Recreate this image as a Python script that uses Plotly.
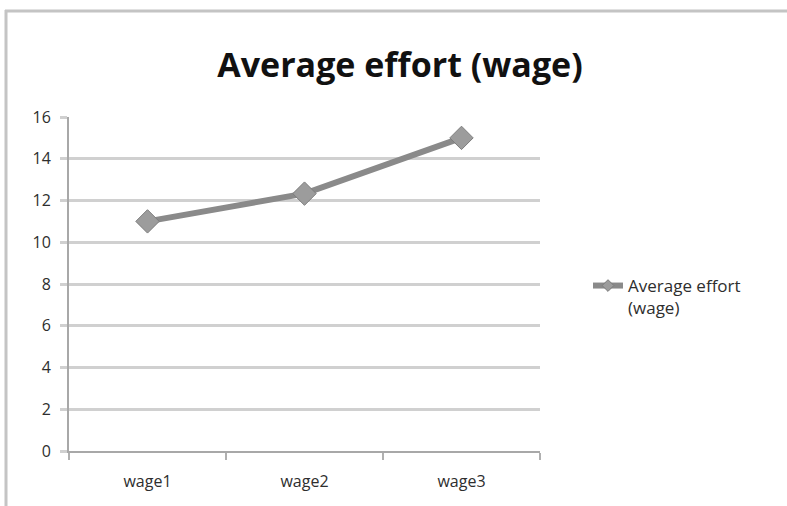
import plotly.graph_objects as go

categories = ["wage1", "wage2", "wage3"]
avg_effort = [11.0, 12.33, 15.0]
y_ticks = [0, 2, 4, 6, 8, 10, 12, 14, 16]
series_name = "Average effort<br>(wage)"
title_text = "Average effort (wage)"

W, H = 787, 506
L, R, T, B = 69, 247, 117, 55
pw, ph = W - L - R, H - T - B

LINE_COLOR = "#8a8a8a"
MARKER_COLOR = "#9c9c9c"
MARKER_EDGE = "#7c7c7c"


def px(x):
    return (x - L) / pw


def py(y):
    return (H - B - y) / ph


fig = go.Figure()
# the series itself
fig.add_trace(go.Scatter(
    x=categories, y=avg_effort, name=series_name, showlegend=False,
    mode="lines+markers",
    line=dict(color=LINE_COLOR, width=6),
    marker=dict(symbol="diamond", size=18, color=MARKER_COLOR,
                line=dict(color=MARKER_EDGE, width=1)),
))
# legend entry with a smaller marker
fig.add_trace(go.Scatter(
    x=[None], y=[None], name=series_name, showlegend=True,
    mode="lines+markers",
    line=dict(color=LINE_COLOR, width=6),
    marker=dict(symbol="diamond", size=9, color=MARKER_COLOR,
                line=dict(color=MARKER_EDGE, width=1)),
))

fig.update_layout(
    width=W, height=H,
    margin=dict(l=L, r=R, t=T, b=B),
    paper_bgcolor="white", plot_bgcolor="white",
    font=dict(family="Open Sans, sans-serif", size=16, color="#2e2e2e"),
    title=dict(text=title_text, x=400 / W, xref="container", xanchor="center",
               y=1 - 65 / H, yref="container", yanchor="middle",
               font=dict(family="Open Sans, sans-serif", size=34,
                         color="#111111", weight="bold")),
    showlegend=True,
    legend=dict(x=px(588), y=py(268), xanchor="left", yanchor="top",
                valign="top", font=dict(size=17, color="#2e2e2e"),
                bgcolor="rgba(0,0,0,0)", itemwidth=30, tracegroupgap=0),
    xaxis=dict(range=[-0.5, 2.5], showgrid=False, showline=True,
               linecolor="#a8a8a8", linewidth=2, ticks="outside",
               tickson="boundaries", ticklen=7, tickcolor="#b0b0b0",
               tickwidth=2, tickfont=dict(size=16), ticklabelstandoff=15,
               fixedrange=True),
    yaxis=dict(range=[0, 16], tickvals=y_ticks, showgrid=True,
               gridcolor="#d0d0d0", gridwidth=3, showline=True,
               linecolor="#a8a8a8", linewidth=2, ticks="outside",
               ticklen=7, tickcolor="#d0d0d0", tickwidth=3,
               tickfont=dict(size=16), ticklabelstandoff=6,
               zeroline=False, fixedrange=True),
    shapes=[
        dict(type="line", xref="paper", yref="paper",
             x0=px(5), x1=px(W + 5), y0=py(11), y1=py(11),
             line=dict(color="#c4c4c4", width=3)),
        dict(type="line", xref="paper", yref="paper",
             x0=px(6), x1=px(6), y0=py(10), y1=py(H + 5),
             line=dict(color="#c4c4c4", width=3)),
    ],
)

fig.write_html("out.html")
